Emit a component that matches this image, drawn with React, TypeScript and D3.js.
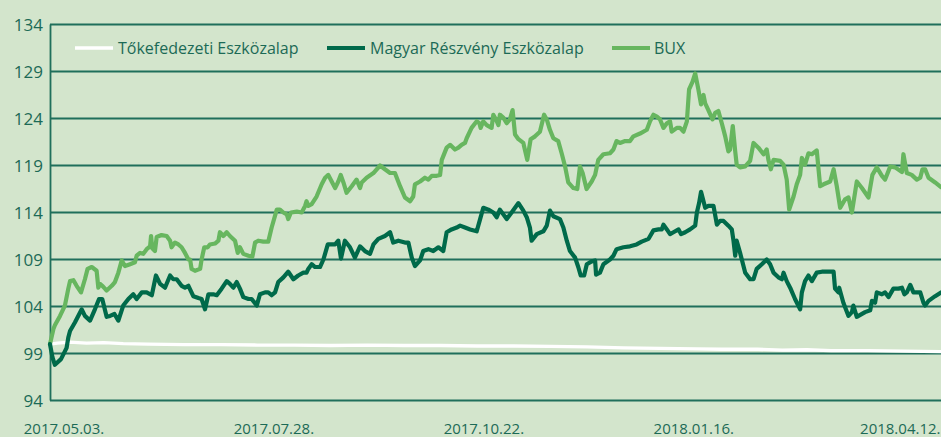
import React, { useEffect } from 'react';
import * as d3 from 'd3';

// x values are days since 2017.05.03.
const xTickDays = [0, 86, 172, 258, 344];
const xTickLabels = ['2017.05.03.', '2017.07.28.', '2017.10.22.', '2018.01.16.', '2018.04.12.'];
const yTicks = [94, 99, 104, 109, 114, 119, 124, 129, 134];
const seriesNames = ['Tőkefedezeti Eszközalap', 'Magyar Részvény Eszközalap', 'BUX'];

const tokeData: [number, number][] = [
  [0, 100.0], [3, 100.1], [8, 100.2], [15, 100.1], [22, 100.15], [30, 100.05], [40, 100.0], [55, 99.95],
  [70, 99.95], [85, 99.9], [100, 99.9], [115, 99.85], [130, 99.9], [145, 99.85], [160, 99.85], [175, 99.8],
  [190, 99.8], [205, 99.75], [220, 99.7], [235, 99.6], [250, 99.55], [265, 99.5], [275, 99.45], [290, 99.45],
  [300, 99.35], [310, 99.4], [320, 99.3], [335, 99.3], [350, 99.25], [365, 99.2],
];

const magyarData: [number, number][] = [
  [0, 100.0], [1.0, 98.6], [2.0, 97.8], [4.5, 98.4], [6.8, 99.6], [7.5, 100.7], [8.2, 101.4], [10.2, 102.3],
  [13.0, 103.7], [14.3, 103.0], [16.4, 102.5], [18.4, 103.7], [20.1, 104.8], [21.4, 104.8], [23.2, 102.9],
  [24.6, 103.0], [26.4, 103.2], [28.0, 102.5], [30.0, 104.1], [32.1, 104.8], [34.1, 105.3], [35.5, 104.8],
  [37.6, 105.5], [39.6, 105.5], [41.7, 105.2], [43.4, 107.3], [45.1, 106.4], [47.1, 106.0], [49.2, 107.3],
  [50.5, 106.9], [51.9, 106.9], [53.9, 106.2], [55.3, 106.0], [56.7, 106.2], [58.7, 105.1], [60.8, 104.9],
  [62.1, 104.8], [63.5, 103.7], [64.9, 105.3], [66.9, 105.3], [68.3, 105.2], [70.3, 105.9], [72.4, 106.7],
  [73.7, 106.4], [75.1, 106.0], [76.5, 106.6], [77.8, 105.9], [79.2, 105.0], [81.3, 104.8], [82.6, 104.8],
  [84.7, 104.1], [86.0, 105.3], [88.1, 105.5], [89.4, 105.5], [90.8, 105.2], [92.2, 105.5], [93.5, 106.6],
  [95.6, 107.1], [97.6, 107.7], [99.7, 106.9], [101.7, 107.3], [103.8, 107.6], [105.1, 107.6], [105.8, 108.0],
  [107.2, 108.5], [108.6, 108.2], [110.6, 108.2], [112.0, 109.0], [113.8, 110.6], [115.4, 110.6], [116.8, 110.6],
  [118.1, 111.0], [119.2, 109.1], [120.8, 111.0], [122.9, 110.3], [124.9, 109.2], [127.0, 110.4], [129.0, 109.9],
  [131.1, 109.6], [132.5, 110.6], [134.5, 111.2], [137.2, 111.5], [139.3, 111.9], [140.6, 110.8], [142.7, 111.0],
  [145.4, 110.8], [146.8, 110.8], [148.2, 109.2], [149.5, 108.3], [151.6, 108.9], [152.9, 109.9], [155.0, 110.1],
  [157.0, 109.9], [159.1, 110.3], [161.1, 109.9], [162.5, 111.9], [164.5, 112.2], [166.6, 112.4], [168.0, 112.6],
  [170.0, 112.4], [172.1, 112.2], [174.8, 112.0], [176.2, 113.3], [177.5, 114.5], [179.6, 114.3], [181.6, 114.0],
  [183.0, 113.5], [184.3, 114.3], [185.7, 113.8], [187.1, 113.3], [189.1, 114.0], [191.9, 115.0], [193.9, 114.2],
  [195.3, 113.5], [196.6, 112.4], [197.3, 111.0], [199.4, 111.7], [202.1, 112.0], [203.5, 112.6], [204.8, 114.2],
  [206.2, 113.6], [208.9, 113.3], [210.3, 112.4], [211.7, 111.0], [213.0, 109.9], [215.1, 109.2], [216.4, 108.2],
  [217.4, 107.3], [218.8, 107.3], [219.9, 108.5], [221.9, 108.8], [223.3, 108.9], [223.7, 107.4], [225.3, 107.6],
  [226.7, 108.5], [229.4, 109.0], [230.8, 109.4], [232.1, 110.1], [234.9, 110.3], [237.6, 110.4], [240.3, 110.6],
  [242.4, 110.9], [245.2, 111.2], [247.2, 112.1], [249.3, 112.2], [250.6, 112.2], [251.3, 112.7], [252.7, 112.2],
  [254.0, 111.7], [255.4, 111.9], [257.5, 112.2], [258.5, 111.7], [260.2, 111.9], [262.2, 112.2], [264.3, 112.6],
  [265.0, 114.0], [265.9, 115.0], [266.7, 116.2], [268.4, 114.5], [269.7, 114.7], [271.8, 114.7], [273.2, 112.7],
  [274.5, 113.1], [275.9, 113.1], [277.9, 112.6], [279.3, 112.2], [280.0, 111.0], [280.7, 109.4], [281.3, 111.0],
  [282.7, 109.7], [283.4, 109.0], [284.8, 107.6], [286.8, 106.9], [288.2, 106.9], [289.5, 108.0], [291.6, 108.5],
  [293.6, 109.0], [295.0, 108.5], [296.4, 107.6], [298.4, 107.1], [299.8, 106.9], [300.5, 107.6], [301.8, 106.7],
  [303.2, 106.0], [305.2, 104.8], [307.3, 103.7], [308.0, 105.5], [309.3, 106.7], [310.7, 107.3], [312.1, 106.7],
  [314.1, 107.6], [316.2, 107.7], [318.9, 107.7], [321.0, 107.7], [321.6, 105.9], [323.0, 105.5], [323.3, 106.0],
  [325.0, 104.4], [327.1, 103.0], [328.5, 103.4], [329.1, 104.1], [330.5, 102.9], [333.9, 103.4], [336.0, 103.6],
  [336.7, 104.6], [338.0, 104.4], [338.7, 105.5], [340.8, 105.3], [342.1, 105.5], [343.5, 105.0], [345.5, 105.9],
  [347.6, 105.9], [349.0, 106.0], [350.0, 105.3], [351.0, 105.5], [352.4, 106.3], [353.7, 105.5], [356.5, 105.5],
  [357.8, 104.4], [358.5, 104.1], [359.9, 104.6], [362.6, 105.1], [365.0, 105.5],
];

const buxData: [number, number][] = [
  [0, 100.0], [1.4, 101.6], [2.0, 102.0], [4.1, 103.0], [6.1, 104.1], [7.5, 105.9], [8.2, 106.7], [9.6, 106.8],
  [10.9, 106.2], [12.7, 105.5], [14.3, 106.9], [15.4, 108.0], [17.1, 108.2], [19.1, 107.8], [19.8, 106.0],
  [20.5, 106.4], [21.4, 106.2], [22.5, 105.9], [23.2, 105.7], [25.3, 106.2], [26.6, 106.6], [28.0, 107.6],
  [29.4, 108.9], [30.7, 108.3], [32.8, 108.5], [34.8, 108.7], [35.5, 109.4], [36.9, 109.7], [38.2, 109.6],
  [39.6, 110.1], [41.0, 110.4], [41.4, 111.5], [41.9, 110.2], [43.0, 109.9], [43.7, 111.4], [45.7, 111.6],
  [47.8, 111.5], [49.2, 111.0], [49.8, 110.3], [51.2, 110.8], [52.6, 110.6], [53.9, 110.3], [55.3, 109.7],
  [56.7, 109.0], [57.4, 109.0], [58.0, 108.0], [59.4, 107.8], [61.5, 108.0], [62.1, 109.0], [63.2, 110.3],
  [64.6, 110.3], [65.5, 110.6], [67.6, 110.7], [69.0, 111.0], [69.6, 111.9], [71.0, 111.5], [72.4, 111.9],
  [73.7, 111.5], [75.8, 111.0], [76.9, 109.7], [77.8, 110.3], [79.2, 109.6], [81.3, 109.4], [82.9, 109.3],
  [84.0, 110.8], [85.3, 111.0], [87.4, 110.9], [89.4, 110.9], [90.8, 112.4], [92.9, 114.3], [94.2, 114.3],
  [95.6, 114.0], [97.0, 113.8], [97.6, 113.3], [98.7, 114.0], [101.1, 114.1], [103.1, 114.0], [104.5, 114.7],
  [105.1, 115.2], [105.8, 114.7], [107.2, 114.9], [109.2, 115.7], [111.3, 117.0], [112.7, 117.7], [114.0, 118.0],
  [115.4, 117.3], [116.8, 116.6], [118.1, 117.3], [119.1, 118.0], [120.2, 117.2], [121.5, 116.1], [123.6, 116.8],
  [125.6, 117.5], [127.0, 116.6], [127.7, 117.2], [129.7, 117.7], [132.5, 118.2], [135.2, 119.0], [137.2, 118.6],
  [139.3, 118.2], [141.3, 118.2], [143.4, 116.8], [145.4, 115.6], [147.5, 115.2], [148.8, 115.7], [149.5, 117.0],
  [151.6, 117.3], [153.6, 117.7], [155.0, 117.5], [156.4, 117.9], [158.4, 117.9], [159.8, 118.0], [160.5, 119.6],
  [162.5, 120.9], [163.9, 121.2], [165.9, 120.7], [167.3, 120.9], [168.6, 121.2], [170.0, 121.4], [170.7, 121.9],
  [172.7, 123.0], [174.8, 123.7], [175.9, 123.5], [176.4, 123.0], [177.5, 123.7], [178.9, 123.3], [180.9, 123.0],
  [181.6, 124.4], [182.7, 123.9], [183.7, 123.3], [184.3, 124.4], [185.7, 124.1], [187.1, 123.5], [188.4, 123.9],
  [189.5, 124.9], [190.5, 122.3], [191.9, 121.8], [193.9, 121.4], [195.5, 119.6], [196.9, 121.8], [198.7, 122.1],
  [200.7, 122.6], [202.4, 124.4], [203.5, 123.9], [204.8, 122.8], [206.2, 121.9], [208.2, 121.6], [209.6, 120.3],
  [211.0, 118.9], [212.3, 117.2], [214.4, 116.6], [216.0, 116.5], [217.1, 118.9], [218.2, 118.2], [219.8, 116.5],
  [221.9, 117.3], [223.3, 118.0], [224.6, 119.6], [226.7, 120.2], [229.4, 120.3], [230.8, 120.7], [232.1, 121.6],
  [233.5, 121.4], [235.6, 121.6], [237.6, 121.6], [239.0, 122.1], [241.7, 122.4], [244.5, 122.8], [245.8, 123.7],
  [247.2, 124.4], [248.6, 124.2], [249.9, 123.9], [251.3, 123.0], [252.7, 123.5], [254.0, 123.7], [254.7, 122.6],
  [256.8, 123.0], [258.1, 123.0], [259.5, 122.6], [260.9, 123.7], [261.8, 127.1], [263.2, 127.9], [264.3, 128.8],
  [265.6, 127.1], [266.7, 125.5], [267.7, 126.5], [268.4, 125.6], [269.7, 124.9], [271.4, 123.9], [272.5, 124.6],
  [273.8, 124.8], [275.2, 123.5], [276.6, 122.1], [277.9, 120.5], [278.6, 120.7], [279.7, 123.2], [280.7, 120.5],
  [281.3, 119.1], [282.7, 118.8], [284.8, 118.9], [286.8, 119.5], [288.2, 121.4], [290.2, 120.9], [292.3, 120.2],
  [293.6, 120.7], [294.3, 119.6], [295.3, 118.6], [296.4, 119.6], [299.1, 119.5], [300.5, 119.1], [301.8, 117.5],
  [302.8, 114.3], [304.6, 115.7], [305.9, 117.0], [307.3, 118.0], [308.0, 119.8], [309.3, 119.1], [310.7, 120.3],
  [312.1, 120.2], [314.1, 120.6], [315.5, 116.8], [316.9, 117.0], [319.6, 117.3], [321.0, 118.6], [322.3, 116.8],
  [323.7, 114.5], [325.7, 115.4], [327.1, 115.6], [328.5, 114.0], [330.5, 117.3], [332.6, 116.6], [335.3, 115.6],
  [336.9, 118.0], [338.7, 118.8], [340.8, 117.9], [342.1, 117.5], [344.2, 118.9], [346.2, 118.8], [349.0, 118.3],
  [349.6, 120.2], [351.0, 118.2], [353.0, 118.0], [355.1, 117.5], [356.5, 117.7], [357.4, 118.6], [358.5, 118.6],
  [359.9, 117.7], [362.6, 117.2], [365.0, 116.7],
];

const W = 941;
const H = 437;
const BG = '#d3e5cc';
const GRID = '#1f6f5b';
const TEXT = '#1c6a56';
const DARK = '#006a4a';
const LIGHT = '#67b65f';
const WHITE = '#ffffff';
const FONT = '"Open Sans", "Noto Sans", sans-serif';

export default function App() {
  useEffect(() => {
    document.body.style.margin = '0';
    document.body.style.background = BG;
  }, []);

  const x = d3.scaleLinear().domain([0, 365]).range([50, 941]);
  const y = d3.scaleLinear().domain([94, 134]).range([400.5, 24.5]);
  const line = d3
    .line<[number, number]>()
    .x((d) => x(d[0]))
    .y((d) => y(d[1]));

  const series = [
    { name: seriesNames[0], data: tokeData, color: WHITE, width: 3.3, lx: 75, tx: 118 },
    { name: seriesNames[2], data: buxData, color: LIGHT, width: 4.2, lx: 612, tx: 654 },
    { name: seriesNames[1], data: magyarData, color: DARK, width: 4.2, lx: 327, tx: 370 },
  ];
  const legendOrder = [series[0], series[2], series[1]];

  return (
    <svg width={W} height={H} style={{ display: 'block', background: BG }}>
      <rect x={0} y={0} width={W} height={H} fill={BG} />
      {yTicks.map((t) => (
        <g key={t}>
          <line x1={50} x2={W} y1={y(t)} y2={y(t)} stroke={GRID} strokeWidth={1.8} />
          <text
            x={43}
            y={y(t)}
            dy="0.36em"
            textAnchor="end"
            fontFamily={FONT}
            fontSize={17}
            fill={TEXT}
          >
            {t}
          </text>
        </g>
      ))}
      <line x1={50.5} x2={50.5} y1={y(134)} y2={y(94)} stroke={GRID} strokeWidth={1.8} />
      {xTickDays.map((d, i) => {
        const last = i === xTickDays.length - 1;
        return (
          <text
            key={d}
            x={last ? W - 0.5 : x(d) + 14}
            y={434}
            textAnchor={last ? 'end' : 'middle'}
            fontFamily={FONT}
            fontSize={15}
            fill={TEXT}
          >
            {xTickLabels[i]}
          </text>
        );
      })}
      {series.map((s) => (
        <path
          key={s.name}
          d={line(s.data) || ''}
          fill="none"
          stroke={s.color}
          strokeWidth={s.width}
          strokeLinejoin="round"
          strokeLinecap="round"
        />
      ))}
      {legendOrder.map((s) => (
        <g key={'lg' + s.name}>
          <line x1={s.lx} x2={s.lx + 38} y1={48} y2={48} stroke={s.color} strokeWidth={s.width} />
          <text x={s.tx} y={53.5} fontFamily={FONT} fontSize={16} fill={TEXT}>
            {s.name}
          </text>
        </g>
      ))}
    </svg>
  );
}
